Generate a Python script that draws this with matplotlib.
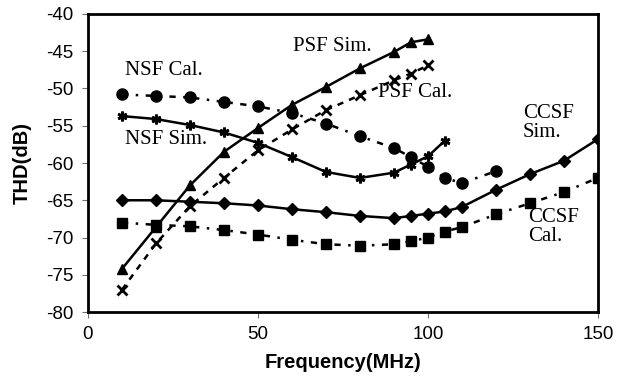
import matplotlib
matplotlib.use("Agg")
import matplotlib.pyplot as plt

# ---- data ----
psf_sim_x = [10, 20, 30, 40, 50, 60, 70, 80, 90, 95, 100]
psf_sim_y = [-74.2, -68.6, -63.0, -58.5, -55.3, -52.2, -49.8, -47.3, -45.1, -43.8, -43.4]

psf_cal_x = [10, 20, 30, 40, 50, 60, 70, 80, 90, 95, 100]
psf_cal_y = [-77.0, -70.8, -65.8, -62.0, -58.3, -55.5, -52.9, -50.9, -48.9, -48.0, -46.9]

nsf_cal_x = [10, 20, 30, 40, 50, 60, 70, 80, 90, 95, 100, 105, 110, 120]
nsf_cal_y = [-50.8, -51.0, -51.2, -51.8, -52.4, -53.3, -54.7, -56.4, -58.0, -59.2, -60.5, -62.0, -62.7, -61.1]

nsf_sim_x = [10, 20, 30, 40, 50, 60, 70, 80, 90, 95, 100, 105]
nsf_sim_y = [-53.7, -54.1, -54.9, -55.9, -57.3, -59.2, -61.2, -62.0, -61.3, -60.2, -59.1, -57.0]

ccsf_sim_x = [10, 20, 30, 40, 50, 60, 70, 80, 90, 95, 100, 105, 110, 120, 130, 140, 150]
ccsf_sim_y = [-65.0, -65.0, -65.2, -65.4, -65.7, -66.2, -66.6, -67.1, -67.4, -67.1, -66.8, -66.5, -65.9, -63.6, -61.5, -59.7, -56.8]

ccsf_cal_x = [10, 20, 30, 40, 50, 60, 70, 80, 90, 95, 100, 105, 110, 120, 130, 140, 150]
ccsf_cal_y = [-68.0, -68.3, -68.5, -69.0, -69.6, -70.3, -70.9, -71.1, -70.9, -70.5, -70.0, -69.2, -68.6, -66.9, -65.4, -63.9, -62.0]

x_ticks = [0, 50, 100, 150]
y_ticks = [-80, -75, -70, -65, -60, -55, -50, -45, -40]

labels = [
    ("NSF Cal.", 10.9, -47.6),
    ("NSF Sim.", 10.9, -56.8),
    ("PSF Sim.", 60.3, -44.3),
    ("PSF Cal.", 85.3, -50.5),
    ("CCSF\nSim.", 127.9, -54.6),
    ("CCSF\nCal.", 129.4, -68.6),
]

# ---- figure ----
fig = plt.figure(figsize=(6.17, 3.81), dpi=100)
ax = fig.add_axes([0.1426, 0.181, 0.969 - 0.1426, 0.9633 - 0.181])

lw = 1.8
ax.plot(psf_sim_x, psf_sim_y, color="black", lw=lw, marker="^", ms=7, zorder=3)
ax.plot(psf_cal_x, psf_cal_y, color="black", lw=lw, ls=(0, (2.5, 2.5)), marker="x", ms=7, mew=2, zorder=3)
ax.plot(nsf_cal_x, nsf_cal_y, color="black", lw=lw, ls=(0, (2.5, 3, 1, 3)), marker="o", ms=8, zorder=3)
ax.plot(nsf_sim_x, nsf_sim_y, color="black", lw=lw, marker=(6, 2, 0), ms=7, mew=2, zorder=3)
ax.plot(ccsf_sim_x, ccsf_sim_y, color="black", lw=lw, marker="D", ms=6, zorder=3)
ax.plot(ccsf_cal_x, ccsf_cal_y, color="black", lw=lw, ls=(0, (2.5, 3, 1, 3)), marker="s", ms=7.5, zorder=3)

for txt, tx, ty in labels:
    ax.text(tx, ty, txt, fontsize=15, family="Liberation Serif", ha="left", va="center",
            linespacing=1.0, zorder=4)

ax.set_xlim(0, 150)
ax.set_ylim(-80, -40)
ax.set_xticks(x_ticks)
ax.set_yticks(y_ticks)
ax.set_xticklabels([str(v) for v in x_ticks], family="Liberation Sans", fontsize=13.5)
ax.set_yticklabels([str(v) for v in y_ticks], family="Liberation Sans", fontsize=13.5)
ax.tick_params(axis="y", direction="out", length=4, width=0.8, color="#707070", pad=6.5)
ax.tick_params(axis="x", direction="out", length=4, width=0.8, color="#707070", pad=6)

for s in ax.spines.values():
    s.set_linewidth(2)
    s.set_color("black")

ax.set_xlabel("Frequency(MHz)", family="Liberation Sans", fontsize=14.5, fontweight="bold", labelpad=7)
ax.set_ylabel("THD(dB)", family="Liberation Sans", fontsize=14.5, fontweight="bold", labelpad=10)

fig.savefig("out.png", dpi=100)
